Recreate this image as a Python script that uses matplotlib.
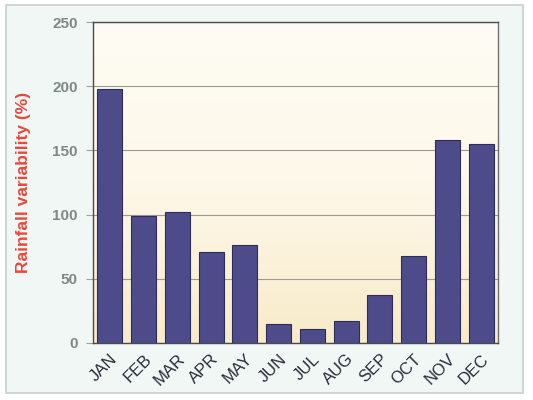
import matplotlib
matplotlib.use("Agg")
import matplotlib.pyplot as plt
import numpy as np
from matplotlib.patches import Rectangle
from matplotlib.colors import LinearSegmentedColormap

plt.rcParams["font.family"] = ["Liberation Sans", "DejaVu Sans"]

months = ["JAN", "FEB", "MAR", "APR", "MAY", "JUN", "JUL", "AUG", "SEP", "OCT", "NOV", "DEC"]
variability = [198, 99, 102, 71, 76, 15, 11, 17, 37, 68, 158, 155]
yticks = [0, 50, 100, 150, 200, 250]

fig = plt.figure(figsize=(5.33, 4.0), dpi=100)
fig.patch.set_facecolor("white")

# outer frame
frame = Rectangle((6/533, 1 - 393/400), (523-6)/533, (393-5)/400,
                  transform=fig.transFigure, facecolor="#f1f7f5",
                  edgecolor="#c9cfcd", linewidth=1.2, zorder=-10)
fig.patches.append(frame)

ax = fig.add_axes([93/533, 1 - 343/400, (498-93)/533, (343-22)/400])
ax.set_zorder(5)
ax.set_facecolor("#fcf5e2")

# cream gradient background
grad = np.linspace(0, 1, 256).reshape(-1, 1)
cmap = LinearSegmentedColormap.from_list("bg", ["#f8ebc9", "#fdf8ea", "#fefcf4"])
ax.imshow(grad, aspect="auto", cmap=cmap, origin="lower",
          extent=(-0.5, len(months) - 0.5, 0, 250), zorder=0)

x = np.arange(len(months))
ax.bar(x, variability, width=0.74, color="#4d4b8a", edgecolor="#2e2c5a",
       linewidth=0.8, zorder=3)

ax.set_xlim(-0.5, len(months) - 0.5)
ax.set_ylim(0, 250)
ax.set_yticks(yticks)
ax.set_yticklabels([str(v) for v in yticks], fontsize=11, fontweight="bold",
                   color="#7d8a87")
ax.set_xticks(x)
ax.set_xticklabels(months, rotation=45, ha="right", rotation_mode="anchor",
                   fontsize=12, color="#2a2a3a")
ax.tick_params(axis="x", length=0, pad=6)
ax.tick_params(axis="y", length=5, color="#9aa3a0", pad=6)

ax.yaxis.grid(True, color="#9a9a92", linewidth=0.8)
ax.set_axisbelow(True)

for s in ["left", "bottom", "top"]:
    ax.spines[s].set_color("#4a4a4a")
    ax.spines[s].set_linewidth(1.0)
ax.spines["right"].set_color("#707070")
ax.spines["right"].set_linewidth(1.0)

ax.set_ylabel("Rainfall variability (%)", fontsize=12.5, fontweight="bold",
              color="#e8483a", labelpad=15)

fig.savefig("out.png", dpi=100, facecolor=fig.get_facecolor())
